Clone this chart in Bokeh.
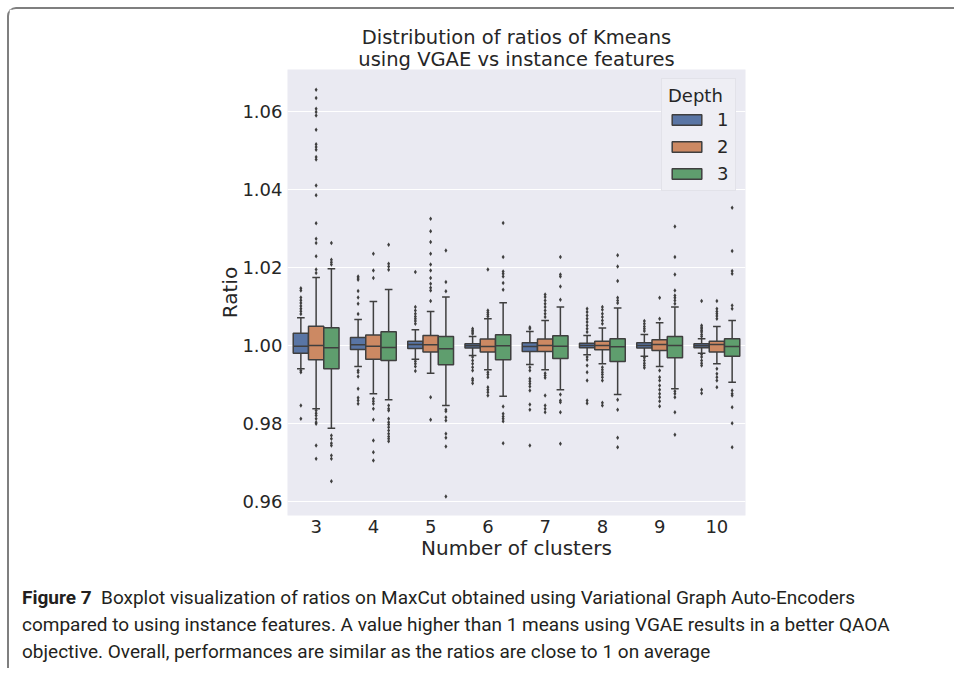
from bokeh.plotting import figure
from bokeh.models import (ColumnDataSource, FixedTicker, Legend, LegendItem, Title,
                          Range1d, PrintfTickFormatter, Div, Column)
from bokeh.embed import file_html
from bokeh.resources import INLINE

clusters = ["3", "4", "5", "6", "7", "8", "9", "10"]
depth_labels = ["1", "2", "3"]
depth_colors = ["#5975a4", "#cc8963", "#5f9e6e"]

# ---- Depth 1 ----
d1_q1 = [0.99802, 0.99897, 0.99923, 0.99931, 0.99846, 0.99941, 0.99931, 0.99941]
d1_med = [0.99982, 1.00020, 1.00026, 0.99992, 0.99974, 1.00000, 1.00000, 0.99992]
d1_q3 = [1.00316, 1.00206, 1.00110, 1.00044, 1.00069, 1.00059, 1.00069, 1.00044]
d1_lo = [0.99400, 0.99460, 0.99648, 0.99743, 0.99512, 0.99761, 0.99725, 0.99800]
d1_hi = [1.00710, 1.00668, 1.00404, 1.00231, 1.00360, 1.00257, 1.00283, 1.00172]
d1_out = [
    [1.0147, 1.0141, 1.0123, 1.0116, 1.0109, 1.0101, 1.0094, 1.0088, 1.0081, 0.99357, 0.99314, 0.98458, 0.98116],
    [1.0177, 1.0173, 1.0169, 1.0140, 1.0123, 1.0107, 1.0081, 0.99357, 0.99314, 0.99203, 0.98887, 0.98656, 0.98586, 0.98501],
    [1.01884, 1.00985, 1.009, 1.00815, 1.00746, 1.00686, 1.00625, 1.00558, 0.99596, 0.9953, 0.9946, 0.9934],
    [1.00429, 1.00386, 1.00342, 1.003, 0.997, 0.99614, 0.9953, 0.99442, 0.99357, 0.99144, 0.991, 0.99031],
    [1.0047, 1.00429, 0.99442, 0.99357, 0.99144, 0.99082, 0.99015, 0.98946, 0.98843, 0.98483, 0.98347, 0.97429],
    [1.00943, 1.00857, 1.00771, 1.00686, 1.006, 1.00514, 1.00429, 1.00342, 0.997, 0.99632, 0.99486, 0.99314, 0.991, 0.98586, 0.98517],
    [1.00625, 1.00558, 1.00488, 1.00429, 1.00368, 0.99684, 0.99614, 0.99545, 0.99486, 0.99426],
    [1.01139, 1.00514, 1.0047, 1.00429, 1.00386, 1.00342, 1.00283, 1.00231, 0.99769, 0.997, 0.99614, 0.99545, 0.99486, 0.98861, 0.98774],
]

# ---- Depth 2 ----
d2_q1 = [0.99632, 0.99648, 0.99828, 0.99828, 0.99846, 0.99889, 0.99871, 0.99828]
d2_med = [1.00000, 0.99982, 1.00018, 0.99974, 1.00000, 1.00000, 1.00026, 1.00026]
d2_q3 = [1.00496, 1.00265, 1.00257, 1.00162, 1.00162, 1.00110, 1.00147, 1.00110]
d2_lo = [0.98373, 0.98758, 0.99288, 0.99374, 0.99374, 0.99530, 0.99460, 0.99530]
d2_hi = [1.01748, 1.01131, 1.00874, 1.00686, 1.00643, 1.00445, 1.00583, 1.00488]
d2_out = [
    [1.0657, 1.0636, 1.0608, 1.0600, 1.0591, 1.0554, 1.0517, 1.0510, 1.0503, 1.0484, 1.0478, 1.0411, 1.0386,
     1.0314, 1.0274, 1.0263, 1.0229, 1.0195, 1.0186, 0.98329, 0.9826, 0.9820, 0.98116, 0.98028, 0.97987,
     0.97429, 0.97087],
    [1.02357, 1.01928, 1.0173, 0.9863, 0.98568, 0.98501, 0.98373, 0.9809, 0.97558, 0.97257, 0.97044],
    [1.03257, 1.02931, 1.02656, 1.02357, 1.02082, 1.01928, 1.0173, 1.01586, 1.01483, 1.01414, 1.01139, 0.98671, 0.9809],
    [1.01954, 1.009, 1.00848, 1.00797, 1.00746, 0.99314, 0.99254, 0.99185, 0.98928, 0.98861, 0.988, 0.98715],
    [1.01311, 1.01242, 1.01157, 1.01071, 1.00985, 1.009, 1.00815, 1.00728, 0.99288, 0.99229, 0.9917, 0.98715, 0.98458, 0.98373, 0.98286],
    [1.00985, 1.00918, 1.00815, 1.00728, 1.00643, 1.00558, 0.99442, 0.99375, 0.99314, 0.99254, 0.99185, 0.991, 0.98527, 0.98458],
    [1.01226, 1.00686, 0.99357, 0.99185, 0.991, 0.98972, 0.98861, 0.98758, 0.98671, 0.98568, 0.9844],
    [1.01139, 1.00943, 1.00874, 1.00815, 1.00754, 1.00686, 0.994, 0.99272, 0.99185, 0.991, 0.98928],
]

# ---- Depth 3 ----
d3_q1 = [0.99401, 0.99614, 0.99504, 0.99632, 0.99666, 0.99589, 0.99684, 0.99725]
d3_med = [0.99941, 0.99949, 0.99915, 0.99992, 0.99982, 0.99967, 1.00000, 0.99974]
d3_q3 = [1.00455, 1.00352, 1.00231, 1.00275, 1.00249, 1.00172, 1.00231, 1.00172]
d3_lo = [0.97874, 0.98604, 0.98458, 0.98697, 0.98861, 0.98740, 0.98887, 0.99057]
d3_hi = [1.01972, 1.01440, 1.01242, 1.01098, 1.00985, 1.00959, 1.00985, 1.00643]
d3_out = [
    [1.0263, 1.0220, 1.0214, 1.0208, 0.97686, 0.9760, 0.97488, 0.97429, 0.97172, 0.97087, 0.96512],
    [1.02589, 1.021, 1.02031, 1.01946, 0.98458, 0.98373, 0.98329, 0.98116, 0.98028, 0.97969, 0.979, 0.97815, 0.97729, 0.9766, 0.976, 0.9754],
    [1.02442, 1.01627, 1.01395, 0.98347, 0.98311, 0.98157, 0.98072, 0.9773, 0.97627, 0.97404, 0.96118],
    [1.03144, 1.0227, 1.01902, 1.01842, 1.01774, 1.01602, 1.01431, 0.98432, 0.98244, 0.98175, 0.98115, 0.98054, 0.97488],
    [1.0227, 1.01825, 1.01774, 1.01517, 1.01175, 0.9874, 0.98586, 0.98542, 0.98286, 0.97473],
    [1.02314, 1.02031, 1.01653, 1.01226, 1.01157, 1.01087, 0.98604, 0.98347, 0.97627, 0.97386],
    [1.03059, 1.0227, 1.01825, 1.01414, 1.01285, 1.01226, 1.01157, 1.01071, 0.98825, 0.98758, 0.98671, 0.98286, 0.97704],
    [1.0354, 1.02424, 1.0191, 1.01842, 1.01028, 1.00943, 0.98843, 0.98758, 0.98715, 0.98414, 0.98003, 0.97386],
]

y_ticks = [0.96, 0.98, 1.00, 1.02, 1.04, 1.06]

title_lines = ["Distribution of ratios of Kmeans", "using VGAE vs instance features"]
x_label = "Number of clusters"
y_label = "Ratio"
caption_bold = "Figure 7"
caption_lines = [
    "Boxplot visualization of ratios on MaxCut obtained using Variational Graph Auto-Encoders",
    "compared to using instance features. A value higher than 1 means using VGAE results in a better QAOA",
    "objective. Overall, performances are similar as the ratios are close to 1 on average",
]

# ---------------- layout constants ----------------
W, H = 945, 563
FL, FR, FT, FB = 278, 209, 60, 57

TEXT = "#262626"
EDGE = "#3f3f3f"
FONT = "DejaVu Sans"

p = figure(width=W, height=H, output_backend="svg", toolbar_location=None, title=None,
           x_range=Range1d(-0.5, 7.5), y_range=Range1d(0.9563, 1.0709),
           min_border_left=FL, min_border_right=FR, min_border_top=FT, min_border_bottom=FB,
           background_fill_color="#eaeaf2", border_fill_color="white")
p.outline_line_color = None

for ax in (p.xaxis[0], p.yaxis[0]):
    ax.axis_line_color = None
    ax.major_tick_line_color = None
    ax.minor_tick_line_color = None
    ax.major_tick_out = 0
    ax.major_tick_in = 0
    ax.major_label_text_font = FONT
    ax.major_label_text_font_size = "18px"
    ax.major_label_text_color = TEXT
    ax.axis_label_text_font = FONT
    ax.axis_label_text_font_size = "20px"
    ax.axis_label_text_font_style = "normal"
    ax.axis_label_text_color = TEXT

p.xaxis.ticker = FixedTicker(ticks=list(range(len(clusters))))
p.xaxis.major_label_overrides = {i: c for i, c in enumerate(clusters)}
p.xaxis.major_label_standoff = 4
p.xaxis.axis_label = x_label
p.xaxis.axis_label_standoff = 0

p.yaxis.ticker = FixedTicker(ticks=y_ticks)
p.yaxis.formatter = PrintfTickFormatter(format="%.2f")
p.yaxis.major_label_standoff = 5
p.yaxis.axis_label = y_label
p.yaxis.axis_label_standoff = -3

p.xgrid.grid_line_color = None
p.ygrid.grid_line_color = "white"
p.ygrid.grid_line_width = 1.2

# ---------------- boxes ----------------
BW = 0.8 / 3
offsets = [-BW, 0.0, BW]
depth_data = [
    (d1_q1, d1_med, d1_q3, d1_lo, d1_hi, d1_out),
    (d2_q1, d2_med, d2_q3, d2_lo, d2_hi, d2_out),
    (d3_q1, d3_med, d3_q3, d3_lo, d3_hi, d3_out),
]

legend_items = []
for k, (q1, med, q3, lo, hi, outs) in enumerate(depth_data):
    xs = [i + offsets[k] for i in range(len(clusters))]
    src = ColumnDataSource(dict(
        x=xs, q1=q1, med=med, q3=q3, lo=lo, hi=hi,
        xl=[x - BW / 2 for x in xs], xr=[x + BW / 2 for x in xs],
        cl=[x - BW / 4 for x in xs], cr=[x + BW / 4 for x in xs],
    ))
    p.segment(x0="x", y0="q3", x1="x", y1="hi", source=src, line_color=EDGE, line_width=1.5)
    p.segment(x0="x", y0="q1", x1="x", y1="lo", source=src, line_color=EDGE, line_width=1.5)
    p.segment(x0="cl", y0="hi", x1="cr", y1="hi", source=src, line_color=EDGE, line_width=1.5)
    p.segment(x0="cl", y0="lo", x1="cr", y1="lo", source=src, line_color=EDGE, line_width=1.5)
    box = p.quad(left="xl", right="xr", bottom="q1", top="q3", source=src,
                 fill_color=depth_colors[k], line_color=EDGE, line_width=1.5)
    p.segment(x0="xl", y0="med", x1="xr", y1="med", source=src, line_color=EDGE, line_width=1.5)
    ox, oy = [], []
    for i, vals in enumerate(outs):
        ox += [xs[i]] * len(vals)
        oy += vals
    p.scatter(ox, oy, marker="diamond", size=4.5, fill_color=EDGE, line_color=None)
    legend_items.append(LegendItem(label=depth_labels[k], renderers=[box]))

legend = Legend(items=legend_items, location="top_right", title="Depth",
                title_text_font=FONT, title_text_font_size="18px", title_text_color=TEXT,
                title_text_font_style="normal", title_standoff=3,
                label_text_font=FONT, label_text_font_size="18px", label_text_color=TEXT,
                glyph_width=37, glyph_height=13, label_height=21, label_width=12,
                label_standoff=12, spacing=6, padding=6, margin=9,
                background_fill_color="#eeeef4", background_fill_alpha=1.0,
                border_line_color="#d6d6de", border_line_width=1)
p.add_layout(legend)

# ---------------- two-line title ----------------
p.add_layout(Title(text=title_lines[1], align="center", text_font=FONT, text_font_size="19.5px",
                   text_font_style="normal", text_color=TEXT, standoff=-3), "above")
p.add_layout(Title(text=title_lines[0], align="center", text_font=FONT, text_font_size="19.5px",
                   text_font_style="normal", text_color=TEXT, standoff=-2), "above")

# ---------------- caption ----------------
cap_html = ("<b>" + caption_bold + "</b>&nbsp;&nbsp;" + caption_lines[0] + "<br>"
            + caption_lines[1] + "<br>" + caption_lines[2])
caption = Div(text=cap_html, width=920, height=84, margin=(12, 0, 0, 13),
              styles={"font-family": "Roboto, sans-serif",
                      "font-size": "19px", "line-height": "27px", "color": "#231f20",
                      "white-space": "nowrap"})

page = Column(children=[p, caption], spacing=0,
              styles={"margin-left": "7px", "margin-top": "7px",
                      "border-left": "2px solid #7f7f7f", "border-top": "2px solid #7f7f7f",
                      "border-top-left-radius": "9px"})

open("out.html", "w").write(file_html(page, INLINE))
